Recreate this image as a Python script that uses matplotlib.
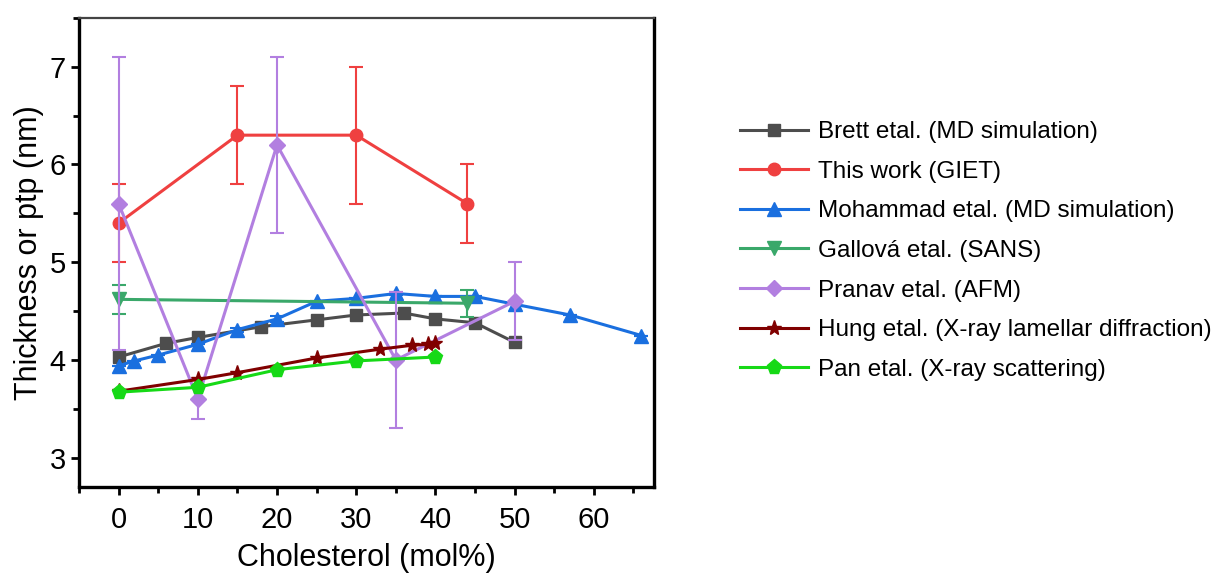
import matplotlib
matplotlib.use('Agg')
import matplotlib.pyplot as plt
from matplotlib.lines import Line2D
from matplotlib.ticker import MultipleLocator

plt.rcParams['font.family'] = ['Liberation Sans', 'DejaVu Sans']

# thickness vs cholesterol content, literature + this work
brett_x = [0, 6, 10, 18, 25, 30, 36, 40, 45, 50]
brett_y = [4.03, 4.17, 4.23, 4.34, 4.41, 4.46, 4.48, 4.42, 4.38, 4.18]

giet_x = [0, 15, 30, 44]
giet_y = [5.4, 6.3, 6.3, 5.6]
giet_err = [0.4, 0.5, 0.7, 0.4]

moh_x = [0, 2, 5, 10, 15, 20, 25, 30, 35, 40, 45, 50, 57, 66]
moh_y = [3.94, 3.99, 4.05, 4.16, 4.31, 4.42, 4.60, 4.63, 4.68, 4.65, 4.65, 4.57, 4.46, 4.25]
moh_err = [0, 0, 0, 0, 0.02, 0.03, 0, 0, 0.02, 0, 0, 0, 0, 0]

gal_x = [0, 44]
gal_y = [4.62, 4.58]
gal_err = [0.15, 0.14]

pranav_x = [0, 10, 20, 35, 50]
pranav_y = [5.6, 3.6, 6.2, 4.0, 4.6]
pranav_err = [1.5, 0.2, 0.9, 0.7, 0.4]

hung_x = [0, 10, 15, 25, 33, 37, 39, 40]
hung_y = [3.68, 3.80, 3.87, 4.02, 4.11, 4.15, 4.16, 4.17]

pan_x = [0, 10, 20, 30, 40]
pan_y = [3.67, 3.72, 3.90, 3.99, 4.03]

labels = ['Brett etal. (MD simulation)', 'This work (GIET)', 'Mohammad etal. (MD simulation)',
          'Gallová etal. (SANS)', 'Pranav etal. (AFM)', 'Hung etal. (X-ray lamellar diffraction)',
          'Pan etal. (X-ray scattering)']
colors = ['#4d4d4d', '#ef4040', '#1a6fdf', '#3aa86a', '#b27fe0', '#800000', '#16d916']
markers = ['s', 'o', '^', 'v', 'D', '*', 'p']
sizes = [9, 9, 10, 10, 8, 11, 11]

fig = plt.figure(figsize=(12.23, 5.77), dpi=100)
ax = fig.add_axes([0.0646, 0.156, 0.4702, 0.813])

lw = 2.2
ebar = dict(capsize=5, elinewidth=1.5, capthick=1.5)
ax.plot(brett_x, brett_y, color=colors[0], lw=lw, marker=markers[0], ms=sizes[0], zorder=2)
ax.errorbar(giet_x, giet_y, yerr=giet_err, color=colors[1], lw=lw, marker=markers[1],
            ms=sizes[1], zorder=3, **ebar)
ax.errorbar(moh_x, moh_y, yerr=moh_err, color=colors[2], lw=lw, marker=markers[2],
            ms=sizes[2], zorder=4, **ebar)
ax.errorbar(gal_x, gal_y, yerr=gal_err, color=colors[3], lw=lw, marker=markers[3],
            ms=sizes[3], zorder=5, **ebar)
ax.errorbar(pranav_x, pranav_y, yerr=pranav_err, color=colors[4], lw=lw, marker=markers[4],
            ms=sizes[4], zorder=6, **ebar)
ax.plot(hung_x, hung_y, color=colors[5], lw=lw, marker=markers[5], ms=sizes[5], zorder=7)
ax.plot(pan_x, pan_y, color=colors[6], lw=lw, marker=markers[6], ms=sizes[6], zorder=8)

ax.set_xlim(-5, 67.6)
ax.set_ylim(2.7, 7.5)
ax.xaxis.set_major_locator(MultipleLocator(10))
ax.xaxis.set_minor_locator(MultipleLocator(5))
ax.yaxis.set_major_locator(MultipleLocator(1))
ax.yaxis.set_minor_locator(MultipleLocator(0.5))
ax.tick_params(which='major', direction='out', length=6, width=2, labelsize=21)
ax.tick_params(which='minor', direction='out', length=4, width=2)
ax.tick_params(axis='x', pad=8)

for side in ['left', 'bottom', 'right']:
    ax.spines[side].set_linewidth(2.4)
    ax.spines[side].set_color('black')
ax.spines['top'].set_linewidth(1.6)
ax.spines['top'].set_color('#444444')

ax.set_xlabel('Cholesterol (mol%)', fontsize=22, labelpad=6)
ax.set_ylabel('Thickness or ptp (nm)', fontsize=22, labelpad=4)

# plain line+marker handles, legend keeps the series order
handles = [Line2D([], [], color=c, lw=lw, marker=m, ms=s) for c, m, s in zip(colors, markers, sizes)]
fig.legend(handles, labels, loc='center left', bbox_to_anchor=(0.587, 0.565), frameon=False,
           fontsize=17.5, handlelength=2.8, handletextpad=0.4, labelspacing=0.72)

fig.savefig('out.png', dpi=100)
